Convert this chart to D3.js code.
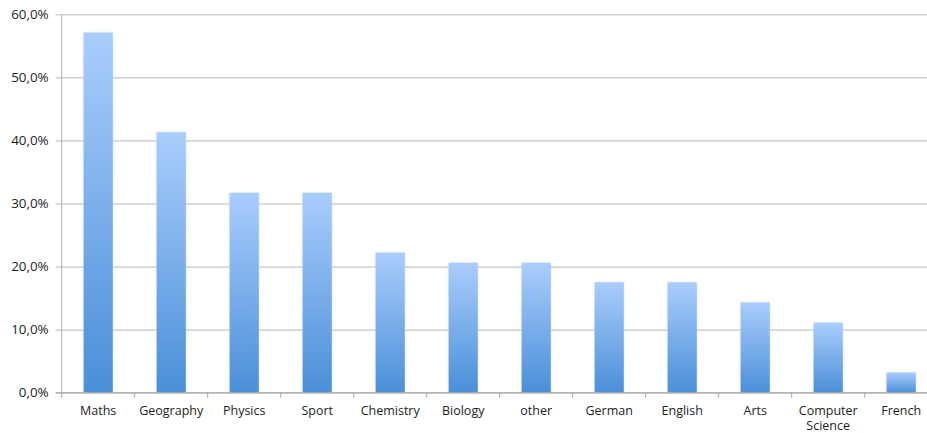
<!DOCTYPE html>
<html>
<head>
<meta charset="utf-8">
<script src="https://cdn.jsdelivr.net/npm/d3@7/dist/d3.min.js"></script>
<style>
  html, body { margin: 0; padding: 0; background: #fff; }
  svg { display: block; }
  .tick text { font-family: "Open Sans", "Liberation Sans", sans-serif; font-size: 12.5px; fill: #1e1e1e; }
  .yax .tick text { font-size: 13.4px; }
</style>
</head>
<body>
<svg id="chart" width="927" height="433"></svg>
<script>
// Share of answers per subject
const subjects = ["Maths", "Geography", "Physics", "Sport", "Chemistry", "Biology",
                  "other", "German", "English", "Arts", "Computer Science", "French"];
const shares = [57.1, 41.3, 31.7, 31.7, 22.2, 20.6, 20.6, 17.5, 17.5, 14.3, 11.1, 3.2];
const yTicks = [0, 10, 20, 30, 40, 50, 60];

const svg = d3.select("#chart");
const plotL = 61.7, plotR = 937.7, plotT = 14.3, plotB = 392.7;

const x = d3.scaleBand().domain(subjects).range([plotL, plotR]).paddingInner(0.6).paddingOuter(0.3);
const y = d3.scaleLinear().domain([0, 60]).range([plotB, plotT]);

// vertical gradient applied to each bar
const defs = svg.append("defs");
const grad = defs.append("linearGradient")
  .attr("id", "barFill").attr("x1", 0).attr("y1", 0).attr("x2", 0).attr("y2", 1);
grad.append("stop").attr("offset", "0%").attr("stop-color", "#aacdfc");
grad.append("stop").attr("offset", "100%").attr("stop-color", "#4a8fd8");

const glow = defs.append("filter").attr("id", "glow")
  .attr("x", "-20%").attr("y", "-5%").attr("width", "140%").attr("height", "110%");
glow.append("feGaussianBlur").attr("in", "SourceAlpha").attr("stdDeviation", 1.2).attr("result", "b");
glow.append("feFlood").attr("flood-color", "#c9d9ee").attr("flood-opacity", 0.8);
glow.append("feComposite").attr("in2", "b").attr("operator", "in");
const m = glow.append("feMerge");
m.append("feMergeNode");
m.append("feMergeNode").attr("in", "SourceGraphic");

// horizontal gridlines + y labels
const yAxis = d3.axisLeft(y).tickValues(yTicks)
  .tickFormat(d => d.toFixed(1).replace(".", ",") + "%")
  .tickSize(-(plotR - plotL)).tickPadding(13);
const gy = svg.append("g").attr("class", "yax").attr("transform", `translate(${plotL},0)`).call(yAxis);
gy.selectAll(".tick line").attr("stroke", "#b7b7b7").attr("x1", -6);
gy.select(".domain").attr("stroke", "#b0b0b0").attr("d", `M0,${plotT}V${plotB}`);

// bars
svg.append("g").selectAll("rect").data(subjects).join("rect")
  .attr("x", d => x(d))
  .attr("width", x.bandwidth())
  .attr("y", (d, i) => y(shares[i]))
  .attr("height", (d, i) => plotB - y(shares[i]))
  .attr("fill", "url(#barFill)")
  .attr("filter", "url(#glow)");

// x axis with category ticks between bands
const gx = svg.append("g").attr("transform", `translate(0,${plotB})`);
gx.append("line").attr("x1", plotL - 6).attr("x2", plotR).attr("y1", 0).attr("y2", 0)
  .attr("stroke", "#a8a8a8");
const step = x.step();
const edges = subjects.map((d, i) => plotL + i * step).concat([plotR]);
gx.selectAll("line.tk").data(edges).join("line").attr("class", "tk")
  .attr("x1", d => d).attr("x2", d => d)
  .attr("y1", 0).attr("y2", 5).attr("stroke", "#a8a8a8");

const lbl = gx.selectAll("g.tick").data(subjects).join("g").attr("class", "tick")
  .attr("transform", d => `translate(${x(d) + x.bandwidth() / 2},0)`);
lbl.append("text").attr("text-anchor", "middle").attr("y", 22)
  .each(function (d) {
    const words = d.split(" ");
    const t = d3.select(this);
    words.forEach((w, i) => t.append("tspan").attr("x", 0).attr("dy", i === 0 ? 0 : 15.5).text(w));
  });
</script>
</body>
</html>
